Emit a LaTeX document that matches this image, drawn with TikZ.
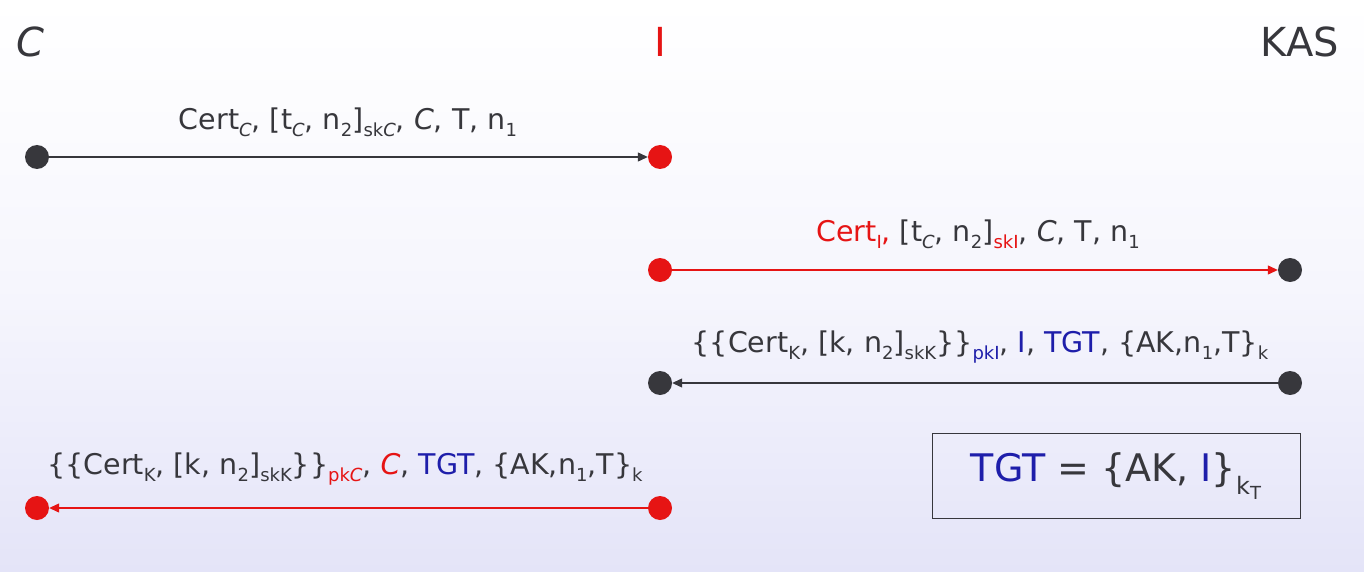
\documentclass[tikz,border=0pt]{standalone}
\usepackage{fontspec}
\setmainfont{DejaVu Sans}
\usetikzlibrary{arrows.meta}
\definecolor{myred}{RGB}{230,20,20}
\definecolor{myblue}{RGB}{30,30,170}
\definecolor{mydark}{RGB}{55,55,60}
\definecolor{lav}{RGB}{228,228,248}
\newcommand\lo[1]{\raisebox{-0.45ex}{\fontsize{18}{18}\selectfont #1}}
\begin{document}
\begin{tikzpicture}[x=1pt,y=-1pt,
  dot/.style={circle,inner sep=0pt,minimum size=24pt},
  reddot/.style={dot,fill=myred},
  darkdot/.style={dot,fill=mydark},
  msg/.style={font=\fontsize{28.5}{30}\selectfont,inner sep=0pt,text=mydark},
  head/.style={font=\fontsize{40}{44}\selectfont,inner sep=0pt},
  arr/.style={-{Triangle[length=10pt,width=9pt]},line width=1.2pt}
]
\shade[top color=white,bottom color=lav,middle color={rgb,255:red,246;green,246;blue,253}] (0,0) rectangle (1364,572);
\useasboundingbox (0,0) rectangle (1364,572);

\node[head,text=mydark] (hc) at (30,42) {\itshape C};
\node[head,text=myred] (hi) at (660,42) {I};
\node[head,text=mydark] (hk) at (1300,42) {KAS};

% row 1
\node[darkdot] (a1) at (37,157) {};
\node[reddot] (b1) at (660,157) {};
\draw[arr,mydark] (a1) -- (b1);
\node[msg] (m1) at (348,122) {Cert\lo{\itshape C}, [t\lo{\itshape C}, n\lo{2}]\lo{sk\itshape C}, \textit{C}, T, n\lo{1}};

% row 2
\node[reddot] (a2) at (660,270) {};
\node[darkdot] (b2) at (1290,270) {};
\draw[arr,myred] (a2) -- (b2);
\node[msg] (m2) at (978,234) {\textcolor{myred}{Cert\lo{I},} [t\lo{\itshape C}, n\lo{2}]\textcolor{myred}{\lo{skI}}, \textit{C}, T, n\lo{1}};

% row 3
\node[darkdot] (a3) at (660,383) {};
\node[darkdot] (b3) at (1290,383) {};
\draw[arr,mydark] (b3) -- (a3);
\node[msg] (m3) at (980,347) {\{\{Cert\lo{K}, [k, n\lo{2}]\lo{skK}\}\}\textcolor{myblue}{\lo{pkI}}, \textcolor{myblue}{I}, \textcolor{myblue}{TGT}, \{AK,n\lo{1},T\}\lo{k}};

% row 4
\node[reddot] (a4) at (37,508) {};
\node[reddot] (b4) at (660,508) {};
\draw[arr,myred] (b4) -- (a4);
\node[msg] (m4) at (345,469) {\{\{Cert\lo{K}, [k, n\lo{2}]\lo{skK}\}\}\textcolor{myred}{\lo{pk\itshape C}}, \textcolor{myred}{\itshape C}, \textcolor{myblue}{TGT}, \{AK,n\lo{1},T\}\lo{k}};

% box
\node[draw=mydark,line width=1pt,minimum width=368pt,minimum height=85pt,inner sep=0pt,font=\fontsize{38}{42}\selectfont,text=mydark] (box) at (1116,476) {\textcolor{myblue}{TGT} = \{AK, \textcolor{myblue}{I}\}\raisebox{-0.6ex}{\fontsize{24}{24}\selectfont k\raisebox{-0.4ex}{\fontsize{18}{18}\selectfont T}}};
\end{tikzpicture}
\end{document}
